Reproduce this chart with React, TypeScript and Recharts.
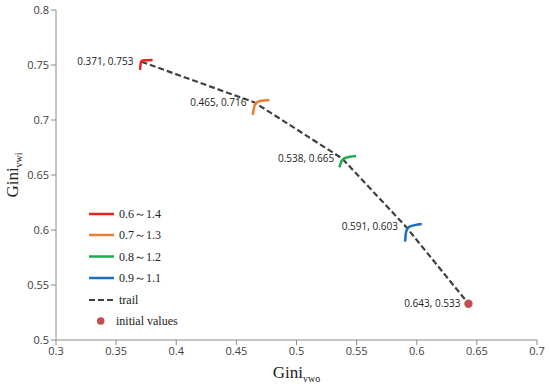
import React from 'react';
import { ScatterChart, Scatter, XAxis, YAxis, Legend } from 'recharts';

// trail points (Gini_vwo, Gini_vwi)
const trailX = [0.371, 0.465, 0.538, 0.591, 0.643];
const trailY = [0.753, 0.716, 0.665, 0.603, 0.533];

// parameter-range curves
const rangeNames = ['0.6～1.4', '0.7～1.3', '0.8～1.2', '0.9～1.1'];
const rangeColors = ['#e8231c', '#ed7d31', '#19ad4b', '#1a6fc2'];
const curve06X = [0.3699, 0.3707, 0.3721, 0.3803];
const curve06Y = [0.7455, 0.753, 0.754, 0.7545];
const curve07X = [0.4636, 0.4656, 0.4697, 0.4775];
const curve07Y = [0.7045, 0.7145, 0.7173, 0.7182];
const curve08X = [0.5357, 0.5377, 0.5404, 0.5496];
const curve08Y = [0.657, 0.663, 0.6655, 0.6673];
const curve09X = [0.5903, 0.5912, 0.594, 0.6042];
const curve09Y = [0.5894, 0.5985, 0.603, 0.6055];

const initialX = [0.643];
const initialY = [0.533];

const xTicks = [0.3, 0.35, 0.4, 0.45, 0.5, 0.55, 0.6, 0.65, 0.7];
const yTicks = [0.5, 0.55, 0.6, 0.65, 0.7, 0.75, 0.8];

const zip = (xs: number[], ys: number[]) => xs.map((x, i) => ({ x, y: ys[i] }));
const curves = [
  zip(curve06X, curve06Y),
  zip(curve07X, curve07Y),
  zip(curve08X, curve08Y),
  zip(curve09X, curve09Y),
];
const trailData = trailX.map((x, i) => ({
  x,
  y: trailY[i],
  label: `${x.toFixed(3)}, ${trailY[i].toFixed(3)}`,
}));
const initialData = zip(initialX, initialY);

const fmt = (v: number) => String(+v.toFixed(2));
const tickStyle = { fontSize: 11, fill: '#404040', fontFamily: 'Open Sans' };

const LegendBox = () => {
  const rowY = [11, 32, 53.5, 75, 97, 118];
  const textStyle = { fontFamily: "'Liberation Serif', 'Times New Roman', serif", fontSize: 12, fill: '#222' };
  return (
    <svg width={120} height={130}>
      {rangeNames.map((n, i) => (
        <g key={n}>
          <line x1={9} x2={34} y1={rowY[i]} y2={rowY[i]} stroke={rangeColors[i]} strokeWidth={2.5} />
          <text x={39} y={rowY[i]} dy="0.35em" style={textStyle}>{n}</text>
        </g>
      ))}
      <line x1={9} x2={34} y1={rowY[4]} y2={rowY[4]} stroke="#404040" strokeWidth={2.2} strokeDasharray="6 3" />
      <text x={39} y={rowY[4]} dy="0.35em" style={textStyle}>trail</text>
      <circle cx={20.7} cy={rowY[5]} r={3.8} fill="#c0504d" />
      <text x={36} y={rowY[5]} dy="0.35em" style={textStyle}>initial values</text>
    </svg>
  );
};

export default function App() {
  return (
    <div style={{ position: 'absolute', left: 0, top: 0 }}>
      <ScatterChart width={550} height={390} margin={{ top: 10, right: 13, bottom: 0, left: 0 }}>
        <XAxis
          type="number"
          dataKey="x"
          domain={[0.3, 0.7]}
          ticks={xTicks}
          tickFormatter={fmt}
          allowDataOverflow
          height={50}
          stroke="#8a8a8a"
          tickSize={5}
          tick={tickStyle}
          label={{
            content: (props: any) => {
              const vb = props.viewBox || { x: 56, width: 481, y: 340 };
              const cx = vb.x + vb.width / 2;
              return (
                <text x={cx} y={378} textAnchor="middle" style={{ fontFamily: "'Liberation Serif', serif", fontSize: 17, fill: '#222' }}>
                  Gini<tspan fontSize={10} dy={4}>vwo</tspan>
                </text>
              );
            },
          }}
        />
        <YAxis
          type="number"
          dataKey="y"
          domain={[0.5, 0.8]}
          ticks={yTicks}
          tickFormatter={fmt}
          allowDataOverflow
          width={56}
          stroke="#8a8a8a"
          tickSize={5}
          tick={tickStyle}
          label={{
            content: (props: any) => {
              const vb = props.viewBox || { y: 10, height: 330 };
              const cy = vb.y + vb.height / 2;
              return (
                <text
                  x={18}
                  y={cy}
                  textAnchor="middle"
                  transform={`rotate(-90, 18, ${cy})`}
                  style={{ fontFamily: "'Liberation Serif', serif", fontSize: 17, fill: '#222' }}
                >
                  Gini<tspan fontSize={10} dy={4}>vwi</tspan>
                </text>
              );
            },
          }}
        />
        <Legend
          layout="vertical"
          align="center"
          verticalAlign="middle"
          wrapperStyle={{ left: 80, top: 203, width: 120, height: 130 }}
          content={() => <LegendBox />}
        />
        <Scatter
          data={trailData}
          isAnimationActive={false}
          line={{ stroke: '#404040', strokeWidth: 2.2, strokeDasharray: '6 3' }}
          shape={() => <g />}
        />
        {curves.map((c, i) => (
          <Scatter
            key={i}
            data={c}
            isAnimationActive={false}
            line={{ stroke: rangeColors[i], strokeWidth: 2.5 }}
            lineJointType="monotoneX"
            shape={() => <g />}
          />
        ))}
        <Scatter
          data={initialData}
          isAnimationActive={false}
          shape={(p: any) => <circle cx={p.cx} cy={p.cy} r={4.2} fill="#c0504d" />}
        />
        <Scatter
          data={trailData}
          isAnimationActive={false}
          shape={(p: any) => (
            <text
              x={p.cx - 8}
              y={p.cy}
              dy="0.35em"
              textAnchor="end"
              style={{ fontFamily: 'Open Sans', fontSize: 10, fill: '#222' }}
            >
              {p.payload.label}
            </text>
          )}
        />
      </ScatterChart>
    </div>
  );
}
